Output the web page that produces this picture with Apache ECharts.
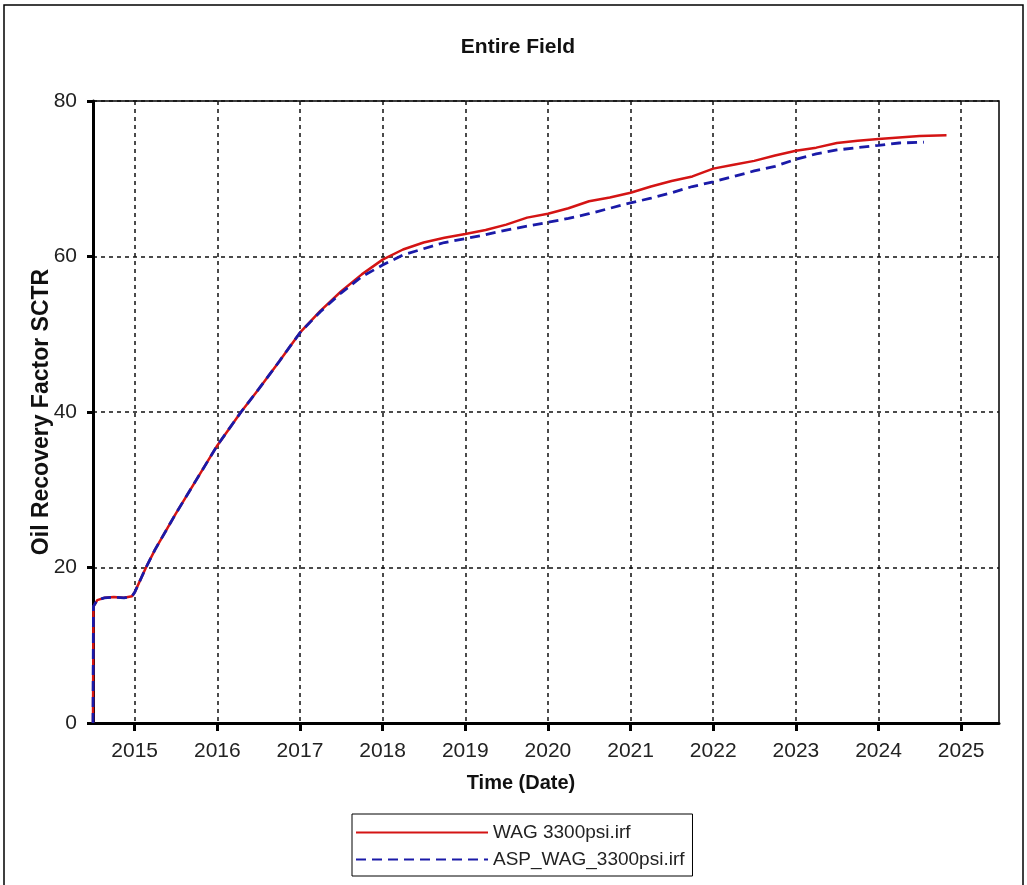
<!DOCTYPE html>
<html>
<head>
<meta charset="utf-8">
<title>Entire Field</title>
<script src="https://cdn.jsdelivr.net/npm/echarts@6/dist/echarts.min.js"></script>
<style>
	html, body { margin: 0; padding: 0; background: #fff; }
	#chart { width: 1027px; height: 885px; }
</style>
</head>
<body>
<div id="chart"></div>
<script>
// years shown on the time axis
const yearTicks = [2015, 2016, 2017, 2018, 2019, 2020, 2021, 2022, 2023, 2024, 2025]

// WAG 3300psi.irf
const wagDates = ['2014-07-01', '2014-07-03', '2014-07-20', '2014-08-20', '2014-10-01', '2014-11-15', '2014-12-20',
	'2015-01-01', '2015-02-20', '2015-04-01', '2015-07-01', '2015-10-01', '2016-01-01', '2016-04-15', '2016-07-01',
	'2016-10-01', '2017-01-01', '2017-04-01', '2017-07-01', '2017-10-01', '2018-01-01', '2018-04-01', '2018-07-01',
	'2018-10-01', '2019-01-01', '2019-04-01', '2019-07-01', '2019-10-01', '2020-01-01', '2020-04-01', '2020-07-01',
	'2020-10-01', '2021-01-01', '2021-04-01', '2021-07-01', '2021-10-01', '2022-01-01', '2022-04-01', '2022-07-01',
	'2022-10-01', '2023-01-01', '2023-04-01', '2023-07-01', '2023-10-01', '2024-01-01', '2024-04-01', '2024-07-01',
	'2024-10-28']
const wagRf = [0, 15.0, 15.8, 16.1, 16.2, 16.1, 16.3,
	16.8, 20.0, 22.3, 26.9, 31.3, 35.7, 40.0, 42.9,
	46.5, 50.2, 53.0, 55.5, 57.7, 59.6, 60.9, 61.8,
	62.4, 62.9, 63.4, 64.1, 65.0, 65.5, 66.2, 67.1,
	67.6, 68.2, 69.0, 69.7, 70.3, 71.3, 71.8, 72.3,
	73.0, 73.6, 74.0, 74.6, 74.9, 75.1, 75.3, 75.5,
	75.6]

// ASP_WAG_3300psi.irf
const aspDates = ['2014-07-01', '2014-07-03', '2014-07-20', '2014-08-20', '2014-10-01', '2014-11-15', '2014-12-20',
	'2015-01-01', '2015-02-20', '2015-04-01', '2015-07-01', '2015-10-01', '2016-01-01', '2016-04-15', '2016-07-01',
	'2016-10-01', '2017-01-01', '2017-04-01', '2017-07-01', '2017-10-01', '2018-01-01', '2018-04-01', '2018-07-01',
	'2018-10-01', '2019-01-01', '2019-04-01', '2019-07-01', '2019-10-01', '2020-01-01', '2020-04-01', '2020-07-01',
	'2020-10-01', '2021-01-01', '2021-04-01', '2021-07-01', '2021-10-01', '2022-01-01', '2022-04-01', '2022-07-01',
	'2022-10-01', '2023-01-01', '2023-04-01', '2023-07-01', '2023-10-01', '2024-01-01', '2024-04-01', '2024-07-20']
const aspRf = [0, 15.0, 15.8, 16.1, 16.2, 16.1, 16.3,
	16.8, 20.0, 22.3, 26.9, 31.3, 35.7, 40.0, 42.9,
	46.5, 50.2, 52.9, 55.3, 57.4, 58.9, 60.2, 61.0,
	61.8, 62.3, 62.8, 63.4, 63.9, 64.4, 64.9, 65.5,
	66.2, 66.9, 67.5, 68.2, 69.0, 69.6, 70.3, 71.0,
	71.6, 72.5, 73.2, 73.7, 74.0, 74.3, 74.6, 74.7]

const font = "'Liberation Sans', Arial, sans-serif"

const chart = echarts.init(document.getElementById('chart'))

// 'YYYY-MM-DD' -> decimal year
function toYear(d) {
	const [y, m, day] = d.split('-').map(Number)
	const start = Date.UTC(y, 0, 1)
	const end = Date.UTC(y + 1, 0, 1)
	return y + (Date.UTC(y, m - 1, day) - start) / (end - start)
}

function pairs(dates, values) {
	return dates.map((d, i) => [toYear(d), values[i]])
}

const option = {
	animation: false,
	backgroundColor: '#fff',
	title: {
		text: 'Entire Field',
		left: 513,
		top: 32,
		textAlign: 'center',
		textStyle: { fontFamily: font, fontSize: 21, fontWeight: 'bold', color: '#111' }
	},
	graphic: [
		{
			type: 'rect',
			shape: { x: 4, y: 5, width: 1019, height: 900 },
			style: { fill: 'none', stroke: '#000', lineWidth: 1.5 },
			silent: true
		},
		{
			type: 'text',
			x: 521,
			y: 783,
			style: {
				text: 'Time (Date)',
				font: 'bold 20px ' + font,
				fill: '#111',
				align: 'center',
				verticalAlign: 'middle'
			}
		}
	],
	grid: {
		left: 93,
		right: 28,
		top: 101,
		bottom: 162,
		show: true,
		borderColor: '#000',
		borderWidth: 1.5,
		backgroundColor: '#fff'
	},
	legend: {
		left: 352,
		top: 814,
		orient: 'vertical',
		itemWidth: 132,
		itemHeight: 14,
		itemGap: 8,
		padding: [9, 8, 7, 3],
		borderColor: '#000',
		borderWidth: 1,
		itemStyle: { opacity: 0 },
		textStyle: { fontFamily: font, fontSize: 19, color: '#222' },
		data: ['WAG 3300psi.irf', 'ASP_WAG_3300psi.irf']
	},
	xAxis: {
		type: 'value',
		min: toYear('2014-07-01'),
		max: toYear('2025-06-17'),
		axisLine: { show: true, onZero: false, lineStyle: { color: '#000', width: 3 } },
		axisTick: { show: true, customValues: yearTicks, length: 8, lineStyle: { color: '#000', width: 3 } },
		axisLabel: {
			customValues: yearTicks,
			formatter: v => String(Math.round(v)),
			margin: 18,
			fontFamily: font,
			fontSize: 21,
			color: '#222'
		},
		splitLine: { show: true, lineStyle: { color: '#111', type: [4, 4], width: 1.5 } }
	},
	yAxis: {
		type: 'value',
		min: 0,
		max: 80,
		interval: 20,
		name: 'Oil Recovery Factor SCTR',
		nameLocation: 'middle',
		nameGap: 40,
		nameMoveOverlap: false,
		nameTextStyle: { fontFamily: font, fontSize: 23, fontWeight: 'bold', color: '#111' },
		axisLine: { show: true, lineStyle: { color: '#000', width: 3 } },
		axisTick: { show: true, length: 6, lineStyle: { color: '#000', width: 3 } },
		axisLabel: { margin: 16, fontFamily: font, fontSize: 21, color: '#222' },
		splitLine: { show: true, lineStyle: { color: '#111', type: [4, 4], width: 1.5 } }
	},
	series: [
		{
			name: 'WAG 3300psi.irf',
			type: 'line',
			showSymbol: false,
			symbol: 'none',
			lineStyle: { color: '#d41414', width: 2.5 },
			itemStyle: { color: '#d41414' },
			data: pairs(wagDates, wagRf)
		},
		{
			name: 'ASP_WAG_3300psi.irf',
			type: 'line',
			showSymbol: false,
			symbol: 'none',
			lineStyle: { color: '#1a1aa8', width: 2.8, type: [10, 6] },
			itemStyle: { color: '#1a1aa8' },
			data: pairs(aspDates, aspRf)
		}
	]
}

chart.setOption(option)
</script>
</body>
</html>
